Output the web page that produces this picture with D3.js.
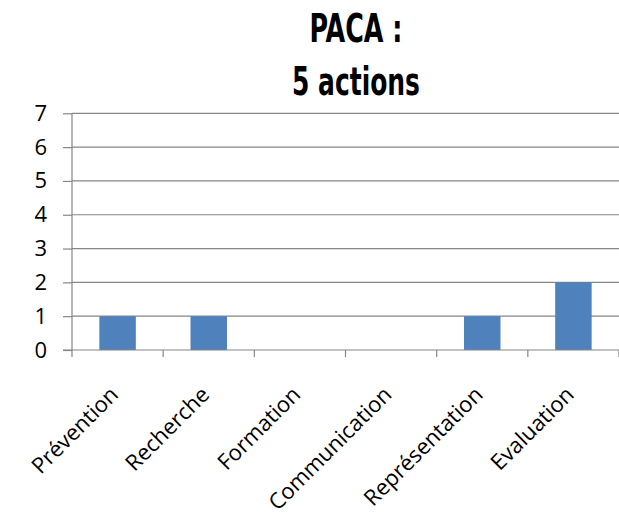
<!DOCTYPE html>
<html><head><meta charset="utf-8">
<script src="https://cdn.jsdelivr.net/npm/d3@7"></script>
<style>body{margin:0;background:#fff}</style>
</head><body>
<script>
const categories = ["Prévention","Recherche","Formation","Communication","Représentation","Evaluation"];
const values = [1,1,0,0,1,2];
const yTicks = [0,1,2,3,4,5,6,7];
const titleLines = ["PACA :","5 actions"];

(function(){
const W=619,H=519;
const svg=d3.select("body").append("svg").attr("width",W).attr("height",H);
const mLeft=72,mRight=619,mTop=113.3,mBottom=350;
const x=d3.scaleBand().domain(categories).range([mLeft,mRight]).paddingInner(0.6).paddingOuter(0.3);
const y=d3.scaleLinear().domain([0,7]).range([mBottom,mTop]);
const grid="#868686";
const font="'Open Sans', sans-serif";

svg.append("g").selectAll("line").data(yTicks.filter(d=>d>0)).join("line")
  .attr("x1",mLeft).attr("x2",mRight).attr("y1",d=>y(d)).attr("y2",d=>y(d))
  .attr("stroke",grid).attr("stroke-width",1.2);

svg.append("g").selectAll("rect").data(categories).join("rect")
  .attr("x",d=>x(d)).attr("width",x.bandwidth())
  .attr("y",(d,i)=>y(values[i])).attr("height",(d,i)=>y(0)-y(values[i]))
  .attr("fill","#4F81BD");

const ya=svg.append("g").attr("transform",`translate(${mLeft},0)`)
  .call(d3.axisLeft(y).tickValues(yTicks).tickSize(9).tickPadding(16).tickFormat(d3.format("d")));
ya.attr("font-family",null).attr("font-size",null);
ya.select(".domain").attr("stroke",grid).attr("stroke-width",1.2).attr("d",`M0,${y(7)}V${y(0)}`);
ya.selectAll(".tick line").attr("stroke",grid).attr("stroke-width",1.2);
ya.selectAll(".tick text").style("font-family",font).style("font-size","22px").attr("fill","#000");

const step=(mRight-mLeft)/categories.length;
const boundaries=d3.range(categories.length+1).map(i=>mLeft+i*step);
svg.append("line").attr("x1",mLeft-9).attr("x2",mRight).attr("y1",mBottom).attr("y2",mBottom).attr("stroke",grid).attr("stroke-width",1.2);
svg.append("g").selectAll("line").data(boundaries).join("line")
  .attr("x1",d=>d).attr("x2",d=>d).attr("y1",mBottom).attr("y2",mBottom+7)
  .attr("stroke",grid).attr("stroke-width",1.2);
svg.append("g").selectAll("text").data(categories).join("text")
  .attr("transform",d=>`translate(${x(d)+x.bandwidth()/2+2},${mBottom+46}) rotate(-45)`)
  .attr("text-anchor","end").style("font-family",font).style("font-size","22px").attr("fill","#000")
  .text(d=>d);

const tw=[93,128];
svg.append("g").selectAll("text").data(titleLines).join("text")
  .attr("x",356).attr("y",(d,i)=>[42,95][i])
  .attr("text-anchor","middle")
  .style("font-family","'Liberation Sans Narrow', 'DejaVu Sans Condensed', sans-serif")
  .attr("font-weight","bold").style("font-size","39px")
  .attr("textLength",(d,i)=>tw[i]).attr("lengthAdjust","spacingAndGlyphs")
  .text(d=>d);
})();
</script>
</body></html>
